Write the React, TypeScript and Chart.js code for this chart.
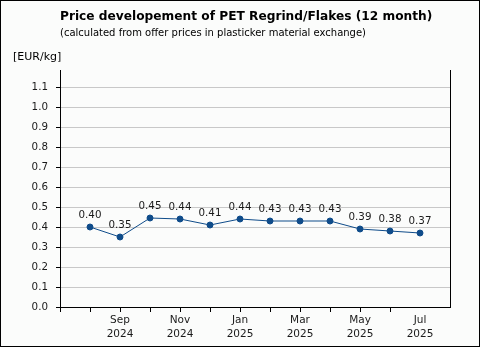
import React, { useEffect, useRef } from "react";
import { Chart, registerables } from "chart.js";

Chart.register(...registerables);

const months = ["Aug", "Sep", "Oct", "Nov", "Dec", "Jan", "Feb", "Mar", "Apr", "May", "Jun", "Jul"];
const years = ["2024", "2024", "2024", "2024", "2024", "2025", "2025", "2025", "2025", "2025", "2025", "2025"];
const prices = [0.40, 0.35, 0.445, 0.44, 0.41, 0.44, 0.43, 0.43, 0.43, 0.39, 0.38, 0.37];
const yTicks = [0, 0.1, 0.2, 0.3, 0.4, 0.5, 0.6, 0.7, 0.8, 0.9, 1.0, 1.1];
const titleText = "Price developement of PET Regrind/Flakes (12 month)";
const subtitleText = "(calculated from offer prices in plasticker material exchange)";
const unitText = "[EUR/kg]";

const FONT = "'DejaVu Sans', Verdana, sans-serif";

export default function App() {
  const ref = useRef<HTMLCanvasElement>(null);
  useEffect(() => {
    const canvas = ref.current!;
    const deco = {
      id: "deco",
      beforeDraw(chart: any) {
        const { ctx, width, height } = chart;
        ctx.save();
        ctx.fillStyle = "#fbfcfb";
        ctx.fillRect(0, 0, width, height);
        ctx.restore();
      },
      afterDraw(chart: any) {
        const { ctx, chartArea, width, height } = chart;
        ctx.save();
        ctx.strokeStyle = "#000";
        ctx.lineWidth = 1;
        ctx.beginPath();
        ctx.moveTo(Math.round(chartArea.right) + 0.5, chartArea.top);
        ctx.lineTo(Math.round(chartArea.right) + 0.5, chartArea.bottom);
        ctx.stroke();
        ctx.strokeRect(0.5, 0.5, width - 1, height - 1);
        ctx.fillStyle = "#000";
        ctx.textBaseline = "middle";
        ctx.textAlign = "left";
        ctx.font = `bold 12.2px ${FONT}`;
        ctx.fillText(titleText, 60, 17);
        ctx.font = `10px ${FONT}`;
        ctx.fillText(subtitleText, 60, 33);
        ctx.font = `11px ${FONT}`;
        ctx.fillText(unitText, 13, 57);
        // data labels
        const meta = chart.getDatasetMeta(0);
        ctx.font = `10.3px ${FONT}`;
        ctx.textAlign = "center";
        ctx.fillStyle = "#1a1a1a";
        meta.data.forEach((pt: any, i: number) => {
          ctx.fillText(prices[i].toFixed(2), pt.x, pt.y - 12);
        });
        ctx.restore();
      },
    };
    const chart = new Chart(canvas, {
      type: "line",
      data: {
        datasets: [
          {
            data: prices.map((v, i) => ({ x: i + 1, y: v })),
            borderColor: "#0f4c8a",
            backgroundColor: "#0f4c8a",
            borderWidth: 1,
            pointRadius: 3,
            pointStyle: "circle",
            pointBackgroundColor: "#0f4c8a",
            pointBorderColor: "#0f4c8a",
            tension: 0,
          },
        ],
      },
      options: {
        animation: false,
        responsive: false,
        events: [],
        layout: { padding: { top: 70, right: 30, left: 0, bottom: 0 } },
        plugins: { legend: { display: false }, tooltip: { enabled: false } },
        scales: {
          x: {
            type: "linear",
            min: 0,
            max: 13,
            afterBuildTicks(scale: any) {
              scale.ticks = Array.from({ length: 13 }, (_, i) => ({ value: i }));
            },
            afterFit(scale: any) {
              scale.height = 40;
            },
            border: { color: "#000", width: 1 },
            grid: {
              drawOnChartArea: false,
              drawTicks: true,
              tickLength: 5,
              tickColor: (c: any) => (c.tick && c.tick.value === 12 ? "rgba(0,0,0,0)" : "#000"),
            },
            ticks: {
              autoSkip: false,
              maxRotation: 0,
              padding: 1,
              color: "#1a1a1a",
              font: { family: FONT, size: 10.5, lineHeight: 1.35 },
              callback: (v: any) => {
                const i = Number(v) - 1;
                if (i >= 0 && i < months.length && i % 2 === 1) return [months[i], years[i]];
                return "";
              },
            },
          },
          y: {
            min: 0,
            max: 1.185,
            afterBuildTicks(scale: any) {
              scale.ticks = yTicks.map((v) => ({ value: v }));
            },
            afterFit(scale: any) {
              scale.width = 60;
            },
            border: { color: "#000", width: 1 },
            grid: {
              color: "#c8c8c8",
              tickColor: "#000",
              tickLength: 4,
              lineWidth: 1,
            },
            ticks: {
              padding: 8,
              color: "#1a1a1a",
              font: { family: FONT, size: 10.3 },
              callback: (v: any) => Number(v).toFixed(1),
            },
          },
        },
      },
      plugins: [deco],
    } as any);
    return () => chart.destroy();
  }, []);
  return (
    <div style={{ position: "fixed", left: 0, top: 0, width: 480, height: 347 }}>
      <canvas ref={ref} width={480} height={347} style={{ display: "block" }} />
    </div>
  );
}
